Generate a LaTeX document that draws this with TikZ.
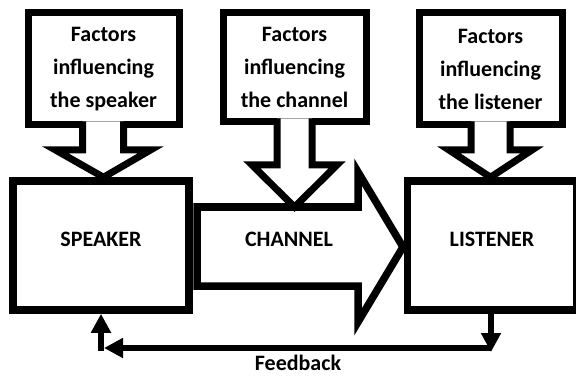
\documentclass[tikz,border=0pt]{standalone}
\usepackage{fontspec}
\setmainfont{Carlito}
\usetikzlibrary{arrows.meta}

\tikzset{
  box/.style={rectangle, draw, line width=7.5pt, fill=white, text height=14pt, text depth=13pt},
  factor/.style={rectangle, draw, line width=7pt, fill=white, align=center},
  stem/.style={line width=7pt, fill=white},
  fb/.style={line width=6pt, -{Triangle[length=19pt,width=19pt]}}
}

\begin{document}
\begin{tikzpicture}[x=1pt, y=-1pt, font=\fontsize{22}{33}\selectfont\bfseries]
		\useasboundingbox (0,0) rectangle (576,377);
		% speaker and listener
		\node at (101,245.5) [box, minimum width=176pt, minimum height=129pt] (S) {SPEAKER};
		\node at (492,245.5) [box, minimum width=169pt, minimum height=129pt] (L) {LISTENER};
		% channel
		\filldraw[stem, line width=7.5pt] (197,207) -- (358,207) -- (358,172) -- (403,247) -- (358,322) -- (358,286) -- (197,286) -- cycle;
		\node at (289,246) [anchor=base] (C) {CHANNEL};
		% factors
		\node at (103.5,69) [factor, minimum width=151pt, minimum height=112pt] (FS) {Factors\\influencing\\the speaker};
		\node at (294.5,67.5) [factor, minimum width=143pt, minimum height=109pt] (FC) {Factors\\influencing\\the channel};
		\node at (490.5,69) [factor, minimum width=143pt, minimum height=112pt] (FL) {Factors\\influencing\\the listener};
		\filldraw[stem] (82.5,121.5) -- (82.5,150) -- (55.5,150) -- (S.north -| FS) -- (150.5,150) -- (123.5,150) -- (123.5,121.5);
		\filldraw[stem] (277,118.5) -- (277,165) -- (252,165) -- (294.5,207) -- (337,165) -- (312,165) -- (312,118.5);
		\filldraw[stem] (471,121.5) -- (471,150) -- (449,150) -- (L.north -| FL) -- (532,150) -- (510,150) -- (510,121.5);
		% feedback
		\coordinate (fbR) at (491,348);
		\coordinate (fbL) at (101,348);
		\draw[fb, shorten >=-4pt] (L.south -| fbR) -- (fbR);
		\draw[fb, shorten >=3pt] (fbR) -- (fbL);
		\draw[fb] ([yshift=-3pt]fbL) -- (S.south -| fbL);
		\node at (298,370) [anchor=base, inner sep=0pt] (FB) {Feedback};
	\end{tikzpicture}
\end{document}
